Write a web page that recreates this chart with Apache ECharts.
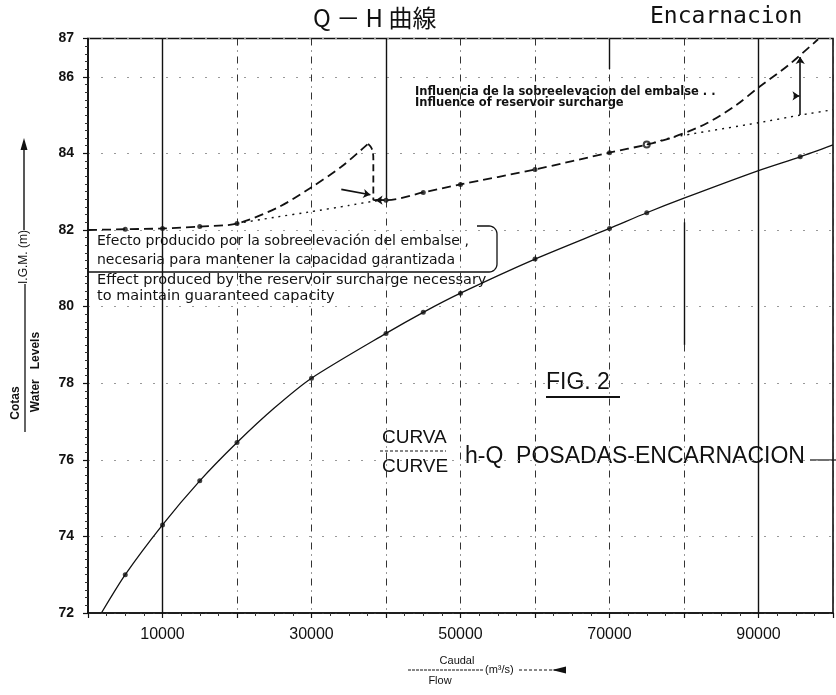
<!DOCTYPE html>
<html>
<head>
<meta charset="utf-8">
<title>Q-H Encarnacion</title>
<script src="https://cdn.jsdelivr.net/npm/echarts/dist/echarts.min.js"></script>
<style>
  html, body { margin: 0; padding: 0; background: #fff; }
  #chart { width: 836px; height: 695px; }
</style>
</head>
<body>
<div id="chart"></div>
<script>
// Axis ranges and labelled ticks
const flowMin = 0, flowMax = 100000, flowStep = 10000;
const levelMin = 72, levelMax = 87, levelStep = 2;
const flowTickLabels = [10000, 30000, 50000, 70000, 90000];

// h-Q rating curve Posadas-Encarnacion (flow m3/s, level m I.G.M.)
const ratingFlow  = [1800, 5000, 10000, 15000, 20000, 25000, 30000, 40000, 45000, 50000, 60000, 70000, 75000, 80000, 90000, 95600, 100000];
const ratingLevel = [72.0, 73.0, 74.3, 75.45, 76.45, 77.35, 78.13, 79.3, 79.85, 80.35, 81.24, 82.04, 82.45, 82.83, 83.55, 83.91, 84.22];
const ratingMarked = [5000, 10000, 15000, 20000, 30000, 40000, 45000, 50000, 60000, 70000, 75000, 95600];

// Levels with reservoir surcharge
const riseFlow  = [0, 5000, 10000, 15000, 20000, 25600, 29800, 34000, 36900, 37600];
const riseLevel = [82.0, 82.02, 82.04, 82.09, 82.17, 82.6, 83.09, 83.65, 84.13, 84.25];
const dropFlow  = [37600, 38100, 38300, 38300];
const dropLevel = [84.25, 84.12, 83.85, 82.78];
const surchargeFlow  = [38300, 40000, 45000, 50000, 60000, 70000, 75000, 78500, 83000, 87000, 90000, 94000, 98000];
const surchargeLevel = [82.78, 82.78, 82.98, 83.19, 83.58, 84.02, 84.23, 84.42, 84.78, 85.26, 85.72, 86.3, 86.98];
const surchargeMarked = [5000, 10000, 15000, 20000, 40000, 45000, 50000, 60000, 70000];
const surchargeOpen = [75000];

// Levels without surcharge (dotted)
const naturalFlowA  = [20000, 25000, 30000, 35000, 38300, 40000];
const naturalLevelA = [82.17, 82.33, 82.48, 82.64, 82.75, 82.78];
const naturalFlowB  = [75000, 78500, 90000, 95600, 100000];
const naturalLevelB = [84.23, 84.42, 84.80, 85.0, 85.14];

// Annotation arrows (data coordinates)
const surchargeGapFlow = 95600;
const surchargeGapLevels = [85.0, 86.52];

const zip = (xs, ys) => xs.map((x, i) => [x, ys[i]]);
const pick = (xs, ys, keep) => xs.map((x, i) => [x, ys[i]]).filter(p => keep.includes(p[0]));

// Rounded outline (right side and bottom) around the Spanish note
function roundedNoteOutline(xl, xr, yt, yb, r) {
  const pts = [[xr - r - 12, yt]];
  for (let i = 0; i <= 8; i++) {
    const a = -Math.PI / 2 + (i / 8) * (Math.PI / 2);
    pts.push([xr - r + r * Math.cos(a), yt + r + r * Math.sin(a)]);
  }
  for (let i = 0; i <= 8; i++) {
    const a = (i / 8) * (Math.PI / 2);
    pts.push([xr - r + r * Math.cos(a), yb - r + r * Math.sin(a)]);
  }
  pts.push([xl, yb]);
  return pts;
}

const ink = '#111';
const noteFont = 'DejaVu Sans';
const chart = echarts.init(document.getElementById('chart'), null, { renderer: 'canvas' });

const option = {
  backgroundColor: '#fff',
  animation: false,
  grid: { left: 88, top: 38.5, width: 750, height: 574.5, show: true, borderColor: ink, borderWidth: 1.6, backgroundColor: 'transparent' },
  xAxis: {
    type: 'value', min: flowMin, max: flowMax, interval: flowStep,
    axisLine: { show: true, lineStyle: { color: ink, width: 1.6 } },
    axisTick: { show: true, length: 5, lineStyle: { color: ink, width: 1.2 } },
    minorTick: { show: true, splitNumber: 4, length: 3, lineStyle: { color: '#333' } },
    axisLabel: {
      margin: 14, color: ink, fontFamily: 'Liberation Sans', fontSize: 16,
      formatter: v => flowTickLabels.includes(v) ? String(v) : ''
    },
    splitLine: { show: true, lineStyle: { color: '#333', width: 1, type: [7, 5, 1, 5] } }
  },
  yAxis: {
    type: 'value', min: levelMin, max: levelMax, interval: levelStep,
    axisLine: { show: true, lineStyle: { color: ink, width: 1.6 } },
    axisTick: { show: true, length: 5, lineStyle: { color: ink, width: 1.2 } },
    minorTick: { show: true, splitNumber: 10, length: 3, lineStyle: { color: '#333' } },
    axisLabel: { margin: 14, color: ink, fontFamily: 'Liberation Sans', fontWeight: 'bold', fontSize: 14 },
    splitLine: { show: true, lineStyle: { color: '#999', width: 1, type: [2, 11] } }
  },
  series: [
    {
      name: 'rating', type: 'line', smooth: 0.25, symbol: 'none',
      data: zip(ratingFlow, ratingLevel),
      lineStyle: { color: ink, width: 1.3 },
      markLine: {
        silent: true, symbol: 'none', label: { show: false },
        lineStyle: { color: ink, width: 1.4, type: 'solid' },
        data: [
          [{ coord: [10000, levelMin] }, { coord: [10000, levelMax] }],
          [{ coord: [40000, 82.8] }, { coord: [40000, levelMax] }],
          [{ coord: [90000, levelMin] }, { coord: [90000, levelMax] }],
          [{ coord: [80000, 79.0] }, { coord: [80000, 82.2] }],
          [{ coord: [70000, 86.2] }, { coord: [70000, levelMax] }]
        ]
      }
    },
    {
      name: 'rating points', type: 'scatter', symbol: 'circle', symbolSize: 5,
      data: pick(ratingFlow, ratingLevel, ratingMarked),
      itemStyle: { color: ink }
    },
    {
      name: 'surcharge rise', type: 'line', smooth: 0.3, symbol: 'none',
      data: zip(riseFlow, riseLevel),
      lineStyle: { color: ink, width: 1.8, type: [9, 5] }
    },
    {
      name: 'surcharge drop', type: 'line', smooth: 0.4, symbol: 'none',
      data: zip(dropFlow, dropLevel),
      lineStyle: { color: ink, width: 1.8, type: [7, 4] }
    },
    {
      name: 'surcharge', type: 'line', smooth: 0.3, symbol: 'none',
      data: zip(surchargeFlow, surchargeLevel),
      lineStyle: { color: ink, width: 1.8, type: [9, 5] }
    },
    {
      name: 'surcharge points', type: 'scatter', symbol: 'circle', symbolSize: 5,
      data: pick(riseFlow, riseLevel, surchargeMarked).concat(pick(surchargeFlow, surchargeLevel, surchargeMarked)),
      itemStyle: { color: ink }
    },
    {
      name: 'surcharge open point', type: 'scatter', symbol: 'emptyCircle', symbolSize: 6,
      data: pick(surchargeFlow, surchargeLevel, surchargeOpen),
      itemStyle: { color: ink, borderColor: ink, borderWidth: 1.2 }
    },
    {
      name: 'natural A', type: 'line', smooth: 0.2, symbol: 'none',
      data: zip(naturalFlowA, naturalLevelA),
      lineStyle: { color: ink, width: 1.4, type: [2, 5] }
    },
    {
      name: 'natural B', type: 'line', smooth: 0.2, symbol: 'none',
      data: zip(naturalFlowB, naturalLevelB),
      lineStyle: { color: ink, width: 1.4, type: [2, 5] }
    },
    {
      name: 'arrows', type: 'lines', coordinateSystem: 'cartesian2d',
      symbol: ['none', 'arrow'], symbolSize: 7,
      lineStyle: { color: ink, width: 1.6, opacity: 1, curveness: 0 },
      data: [
        { coords: [[surchargeGapFlow, surchargeGapLevels[0]], [surchargeGapFlow, surchargeGapLevels[1]]] },
        { coords: [[94700, 85.5], [95500, 85.5]] },
        { coords: [[34000, 83.06], [37900, 82.92]] },
        { coords: [[39800, 82.78], [38600, 82.78]] }
      ]
    }
  ],
  graphic: [
    // titles
    { type: 'text', x: 313, y: 6, style: { text: 'Q － H 曲線', fontFamily: 'Noto Sans CJK JP', fontSize: 24, fill: ink } },
    { type: 'text', x: 650, y: 6, style: { text: 'Encarnacion', fontFamily: 'DejaVu Sans Mono', fontSize: 23, fill: ink } },
    // surcharge influence note
    { type: 'text', x: 415, y: 86, style: { text: 'Influencia de la sobreelevacion del embalse . .', fontFamily: noteFont, fontWeight: 'bold', fontSize: 11.5, fill: ink } },
    { type: 'text', x: 415, y: 97, style: { text: 'Influence of reservoir surcharge', fontFamily: noteFont, fontWeight: 'bold', fontSize: 11.5, fill: ink } },
    // guaranteed capacity note with its outline
    { type: 'text', x: 97, y: 241.5, style: { text: 'Efecto producido por la sobreelevación del embalse ,', fontFamily: noteFont, fontSize: 14, fill: ink, verticalAlign: 'middle' } },
    { type: 'text', x: 97, y: 260, style: { text: 'necesaria para mantener la capacidad garantizada', fontFamily: noteFont, fontSize: 14, fill: ink, verticalAlign: 'middle' } },
    { type: 'text', x: 97, y: 280.5, style: { text: 'Effect produced by the reservoir surcharge necessary', fontFamily: noteFont, fontSize: 14.5, fill: ink, verticalAlign: 'middle' } },
    { type: 'text', x: 97, y: 296, style: { text: 'to maintain guaranteed capacity', fontFamily: noteFont, fontSize: 14.5, fill: ink, verticalAlign: 'middle' } },
    { type: 'polyline', shape: { points: roundedNoteOutline(88, 497, 226, 272, 8) }, style: { fill: null, stroke: ink, lineWidth: 1.3 } },
    // figure caption
    { type: 'text', x: 546, y: 383, style: { text: 'FIG. 2', fontFamily: 'Liberation Sans', fontSize: 23, fill: ink, verticalAlign: 'middle' } },
    { type: 'line', shape: { x1: 546, y1: 397, x2: 620, y2: 397 }, style: { stroke: ink, lineWidth: 2.2 } },
    { type: 'text', x: 382, y: 438, style: { text: 'CURVA', fontFamily: 'Liberation Sans', fontSize: 19, fill: ink, verticalAlign: 'middle' } },
    { type: 'line', shape: { x1: 380, y1: 451, x2: 446, y2: 451 }, style: { stroke: ink, lineWidth: 1.2, lineDash: [3, 2] } },
    { type: 'text', x: 382, y: 467, style: { text: 'CURVE', fontFamily: 'Liberation Sans', fontSize: 19, fill: ink, verticalAlign: 'middle' } },
    { type: 'text', x: 465, y: 457, style: { text: 'h-Q  POSADAS-ENCARNACION', fontFamily: 'Liberation Sans', fontSize: 23, fill: ink, verticalAlign: 'middle' } },
    { type: 'line', shape: { x1: 810, y1: 460, x2: 836, y2: 460 }, style: { stroke: ink, lineWidth: 1.2 } },
    // vertical axis name
    { type: 'line', shape: { x1: 24, y1: 145, x2: 24, y2: 230 }, style: { stroke: ink, lineWidth: 1.4 } },
    { type: 'polygon', shape: { points: [[24, 138], [20.5, 150], [27.5, 150]] }, style: { fill: ink } },
    { type: 'text', x: 24, y: 257, rotation: Math.PI / 2, style: { text: 'I.G.M. (m)', fontFamily: 'Liberation Sans', fontSize: 12, fill: ink, align: 'center', verticalAlign: 'middle' } },
    { type: 'line', shape: { x1: 25, y1: 284, x2: 25, y2: 432 }, style: { stroke: ink, lineWidth: 1.3 } },
    { type: 'text', x: 16, y: 403, rotation: Math.PI / 2, style: { text: 'Cotas', fontFamily: 'Liberation Sans', fontWeight: 'bold', fontSize: 12, fill: ink, align: 'center', verticalAlign: 'middle' } },
    { type: 'text', x: 36, y: 372, rotation: Math.PI / 2, style: { text: 'Water   Levels', fontFamily: 'Liberation Sans', fontWeight: 'bold', fontSize: 12, fill: ink, align: 'center', verticalAlign: 'middle' } },
    // horizontal axis name
    { type: 'text', x: 457, y: 661, style: { text: 'Caudal', fontFamily: 'Liberation Sans', fontSize: 11, fill: ink, align: 'center', verticalAlign: 'middle' } },
    { type: 'line', shape: { x1: 408, y1: 670, x2: 483, y2: 670 }, style: { stroke: ink, lineWidth: 1, lineDash: [3, 1] } },
    { type: 'text', x: 440, y: 681, style: { text: 'Flow', fontFamily: 'Liberation Sans', fontSize: 11, fill: ink, align: 'center', verticalAlign: 'middle' } },
    { type: 'text', x: 485, y: 670, style: { text: '(m³/s)', fontFamily: 'Liberation Sans', fontSize: 11, fill: ink, verticalAlign: 'middle' } },
    { type: 'line', shape: { x1: 519, y1: 670, x2: 560, y2: 670 }, style: { stroke: ink, lineWidth: 1, lineDash: [3, 2] } },
    { type: 'polygon', shape: { points: [[552, 670], [566, 666.5], [566, 673.5]] }, style: { fill: ink } }
  ]
};
chart.setOption(option);
</script>
</body>
</html>
